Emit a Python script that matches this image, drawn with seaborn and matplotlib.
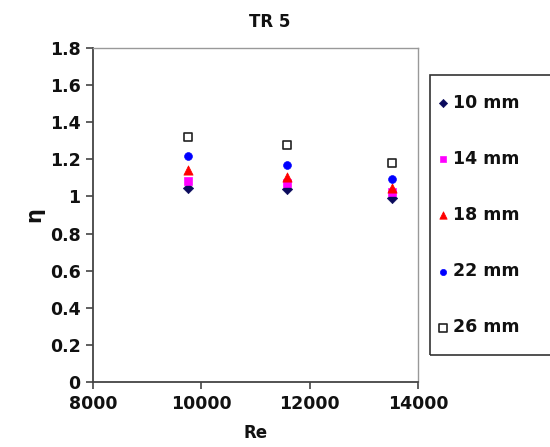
import matplotlib
matplotlib.use('AGG')
import matplotlib.pyplot as plt
from matplotlib.patches import Rectangle
import pandas as pd
import seaborn as sns

re_values = [9750, 11580, 13520]
eta_10mm = [1.045, 1.04, 0.99]
eta_14mm = [1.085, 1.07, 1.025]
eta_18mm = [1.14, 1.105, 1.045]
eta_22mm = [1.22, 1.17, 1.095]
eta_26mm = [1.32, 1.275, 1.18]
labels = ['10 mm', '14 mm', '18 mm', '22 mm', '26 mm']

sns.set_style('white')
plt.rcParams['font.family'] = ['DejaVu Sans']
plt.rcParams['font.weight'] = 'bold'
plt.rcParams['text.color'] = '#111111'
plt.rcParams['xtick.color'] = '#111111'
plt.rcParams['ytick.color'] = '#111111'
plt.rcParams['axes.labelcolor'] = '#111111'

fig = plt.figure(figsize=(5.5, 4.47), dpi=100)
ax = fig.add_axes([0.169, 0.1454, 0.591, 0.7472])

series = [eta_10mm, eta_14mm, eta_18mm, eta_22mm, eta_26mm]
styles = [
    dict(marker='D', color='#0a0a5c', edgecolor='#0a0a5c', s=28),
    dict(marker='s', color='#ff00ff', edgecolor='#ff00ff', s=34),
    dict(marker='^', color='#ff0000', edgecolor='#ff0000', s=44),
    dict(marker='o', color='#0000ff', edgecolor='#0000ff', s=32),
    dict(marker='s', color='white', edgecolor='#222222', s=40, linewidth=1.2),
]
for vals, lab, st in zip(series, labels, styles):
    df = pd.DataFrame({'Re': re_values, 'eta': vals})
    sns.scatterplot(data=df, x='Re', y='eta', ax=ax, label=lab, **st)

ax.set_xlim(8000, 14000)
ax.set_ylim(0, 1.8)
ax.set_xticks([8000, 10000, 12000, 14000])
ax.set_yticks([0, 0.2, 0.4, 0.6, 0.8, 1, 1.2, 1.4, 1.6, 1.8])
ax.set_yticklabels(['0', '0.2', '0.4', '0.6', '0.8', '1', '1.2', '1.4', '1.6', '1.8'])
ax.tick_params(axis='both', direction='out', length=5, width=1.2, color='#444444',
               labelsize=12.5, pad=4, left=True, bottom=True)
for lab in ax.get_xticklabels() + ax.get_yticklabels():
    lab.set_fontweight('bold')
for side in ['left', 'bottom']:
    ax.spines[side].set_color('#444444')
    ax.spines[side].set_linewidth(1.3)
for side in ['top', 'right']:
    ax.spines[side].set_color('#999999')
    ax.spines[side].set_linewidth(1.0)

ax.set_xlabel('Re', fontsize=12, fontweight='bold', labelpad=8)
ax.set_ylabel('η', fontsize=15, fontweight='bold', rotation=90, labelpad=4)
fig.text(0.49, 0.95, 'TR 5', ha='center', va='center', fontsize=12, fontweight='bold')

# legend box (Excel style, runs off the right edge)
fig.patches.append(Rectangle((0.782, 0.2058), 0.3, 0.626, transform=fig.transFigure,
                             fill=False, edgecolor='#333333', linewidth=1.2))

handles, labs = ax.get_legend_handles_labels()
ax.get_legend().remove()
leg = fig.legend(handles, labs, loc='center left', bbox_to_anchor=(0.7927, 0.519),
                 frameon=False, prop={'size': 12.5, 'weight': 'bold'}, labelspacing=2.2,
                 handletextpad=0.2, handlelength=0.8, borderpad=0,
                 borderaxespad=0, markerscale=0.8)

fig.savefig('out.png', dpi=100)
